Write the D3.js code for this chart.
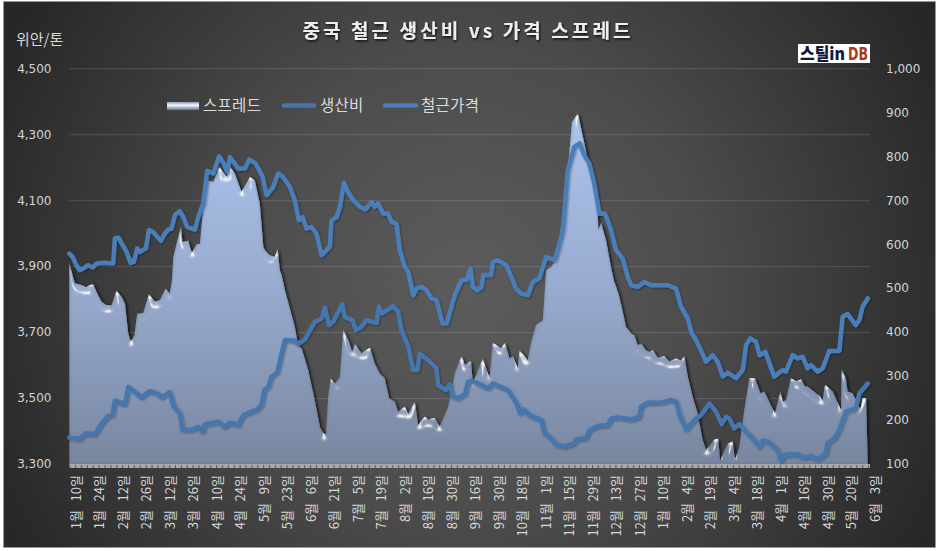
<!DOCTYPE html>
<html><head><meta charset="utf-8">
<script src="https://cdn.jsdelivr.net/npm/d3@7"></script>
<style>html,body{margin:0;padding:0;background:#fff}svg{display:block}text{white-space:pre}</style>
</head><body><svg id="c" width="938" height="551"></svg>
<script>
const title = "중국 철근 생산비 vs 가격 스프레드";
const unitLabel = "위안/톤";
const seriesNames = ["스프레드", "생산비", "철근가격"];
const leftTicks = [3300, 3500, 3700, 3900, 4100, 4300, 4500];
const rightTicks = [100, 200, 300, 400, 500, 600, 700, 800, 900, 1000];
const dateLabels = ["1월   10일","1월   24일","2월   12일","2월   26일","3월   12일","3월   26일","4월   10일","4월   24일","5월   9일","5월   23일","6월   6일","6월   21일","7월   5일","7월   19일","8월   2일","8월   16일","8월   30일","9월   16일","9월   30일","10월   18일","11월   1일","11월   15일","11월   29일","12월   13일","12월   27일","1월   10일","2월   4일","2월   19일","3월   4일","3월   18일","4월   1일","4월   16일","4월   30일","5월   20일","6월   3일"];
const pointsPerLabel = 10;

const priceDay = [0,1.4,3,4.5,6,8,10,11.6,14.5,18.7,19.4,20.9,22.3,24.4,26.1,27.5,28.9,30,32.6,33.9,35.7,37.2,39,40.7,42.1,43.5,45,47,48.5,50.2,53.5,54.9,57,58.7,61.3,63.8,65.8,67.2,68.4,70.5,71.9,74.8,76.6,79.4,82.3,84,86.8,88.9,91,93.9,96,97.7,99.3,101,103.1,105.2,107.4,110.9,111.6,113.8,115.2,116.9,118.7,120.9,123.7,126.1,128.7,130,131.5,133.6,135.7,137.2,139.3,140.7,142.8,144.3,146.4,147.8,149.9,152,154.2,156.3,158.9,160.6,164.1,167,169.1,170.8,171.8,173.6,175.5,176.2,179.6,180.4,182.4,186,188.1,190.2,192.3,195.2,197.3,200.1,203,206.5,207.9,210.1,212.2,215,217.2,219.3,221.4,223.5,225.7,228.1,230.6,232.8,235.6,237.7,239.2,242,244.8,247.7,251.2,254.8,258.3,260.4,263.3,265,266.8,271.1,273.9,276,278.2,280.3,283.8,286.7,288.1,289.9,292.3,293.8,296.3,300.1,303.7,305.1,307.9,310,312.2,314.3,315.7,318.6,320.7,323.5,327.8,329.2,331.3,334.8,336.3,337.7,339.9];
const priceVal = [3938,3928,3903,3888,3893,3903,3896,3908,3910,3908,3984,3987,3969,3943,3910,3913,3954,3943,3954,4009,4004,3991,3977,3999,4011,4014,4055,4067,4049,4019,4011,4049,4090,4189,4181,4233,4211,4186,4231,4211,4196,4196,4223,4211,4171,4115,4140,4181,4171,4140,4100,4039,4049,4014,4019,3999,3933,3959,4039,4049,4080,4153,4125,4100,4080,4072,4095,4080,4090,4060,4060,4034,4029,3948,3898,3883,3812,3832,3837,3827,3802,3797,3726,3726,3812,3858,3858,3893,3837,3827,3837,3873,3873,3913,3918,3903,3868,3832,3817,3812,3852,3863,3928,3918,3949,4009,4191,4262,4272,4236,4211,4150,4059,4059,4009,3948,3923,3868,3842,3837,3852,3842,3842,3842,3832,3777,3741,3696,3676,3610,3630,3610,3565,3577,3560,3585,3661,3681,3671,3630,3640,3565,3585,3580,3630,3620,3625,3590,3600,3580,3590,3643,3643,3746,3755,3721,3736,3777,3802];

const costDay = [0,4.5,7.1,10.9,13.8,16.6,18.4,19.4,23.7,25.1,27.2,30.8,34.3,37.9,39.3,42.8,44.5,47.1,48.1,52,54.9,56.7,57.7,63.4,66.2,68.4,71.9,74,77.6,79.7,81.8,83,84.7,86.1,88.5,90.4,91.8,96,97.4,100.3,104.5,107.4,108.8,110.6,112.3,116.2,117.3,120.6,122,124.4,126.5,130.8,131.8,133.2,137.9,140,141.4,144.3,146.4,148.2,149.2,153.5,156.3,157,160.3,162,163,165.5,168.4,169.8,171,174.8,178.2,180.4,186.7,190.4,191.9,193,196,200.9,202.3,205.1,207.4,210.8,215,215.9,220,221.4,225,229.2,230.7,233.5,239.2,242.7,243.4,246.2,251.9,256.2,258.3,259.8,262.6,266.1,268.9,272.5,275.3,277.7,279.6,281,283.1,285.2,287.4,290.2,293.8,295.2,297.3,301.6,303,304.4,309.4,312.9,315.7,318.6,322.1,322.8,325.7,327.8,330.6,334.9,336.3,339.9];
const costVal = [3380,3376,3393,3390,3423,3446,3448,3492,3481,3534,3522,3502,3521,3512,3502,3517,3474,3454,3405,3403,3413,3398,3420,3428,3413,3425,3418,3448,3459,3464,3479,3524,3534,3565,3577,3635,3676,3674,3664,3678,3731,3741,3774,3721,3731,3784,3746,3736,3706,3716,3736,3728,3777,3757,3779,3762,3706,3656,3585,3585,3635,3610,3590,3539,3524,3542,3506,3499,3512,3549,3552,3542,3529,3544,3524,3484,3454,3466,3448,3433,3393,3378,3358,3353,3363,3375,3378,3403,3415,3418,3438,3441,3435,3443,3474,3486,3486,3494,3489,3448,3405,3433,3448,3484,3459,3421,3443,3438,3408,3421,3403,3383,3353,3371,3368,3342,3310,3327,3330,3320,3324,3314,3332,3363,3378,3403,3459,3469,3514,3544];

const spreadDay = [0,1,2.4,5.2,7.1,8.8,10.2,12.3,13.8,15.9,18,20.1,22.3,23.7,25.1,26.2,27.7,28.9,31.5,33.9,36.5,38.6,41,42.8,43.7,44.3,45.7,47.5,48.2,50.6,52.2,54.2,55.6,57,59.1,61.3,63.8,67,68.4,70.5,73.3,76.9,79,81.1,82.6,83.3,85.4,87.5,88.7,89.6,90.4,91.8,93.9,96,97.4,98.9,101.7,104.5,106.7,108.1,109.2,110.2,111.3,113.1,115.2,116.6,119.1,120.4,121.6,124.4,128,130,132.2,134.3,136.2,138.6,140,142.8,144.3,147.1,148.5,151.4,152.8,154.5,155.6,157.7,161.3,164.1,167,168.4,170.5,171,171.8,176,178.9,180.3,183.8,185.5,187.4,188.8,190.9,191.6,195.2,196.6,198.7,201.6,203,205.1,207.9,210.1,212.2,214,216.5,218.2,219.6,221.4,224.3,225,225.2,226.4,228.5,230.6,231.8,233.8,235,237,239.2,240.6,242,243.4,245.5,247,248.4,250.5,253.3,255.5,258.3,260.4,261.8,263.3,265.4,267.5,269.6,271.1,274.6,276.3,277,278.9,280.6,282.4,283.4,285.2,287.1,289.5,291.9,294.2,295.9,300.4,302.7,303.7,305.1,307.2,309.4,311.5,313.2,314.3,319.3,320.7,321.7,325,328.5,328.8,330.6,331.3,333.5,335.6,336.7,337.7,339.2,339.9];
const spreadVal = [556,537,511,507,502,507,508,484,469,461,461,494,480,465,397,378,393,442,444,486,469,473,499,488,518,571,602,639,605,608,580,600,601,685,745,742,776,753,776,761,719,753,745,692,594,586,575,571,590,541,530,495,454,412,370,363,314,245,185,170,166,253,295,283,298,406,378,355,373,352,365,329,306,295,249,242,219,230,214,242,189,208,200,204,204,185,230,306,346,325,333,333,283,340,295,376,363,376,340,345,317,359,336,376,416,427,541,548,571,677,768,878,897,855,821,776,715,670,632,648,609,548,518,488,461,412,397,393,370,374,359,355,359,342,345,333,340,335,345,299,253,215,155,132,156,158,105,132,147,151,109,139,215,295,295,261,265,215,265,242,245,295,288,293,276,276,255,245,280,265,223,315,295,265,261,238,223,250,250,100];

const svg = d3.select("#c");
const defs = svg.append("defs");
const FONT = "'Noto Sans CJK KR','Noto Sans',sans-serif";
const NUM = "'DejaVu Sans',sans-serif";

const bg = defs.append("radialGradient").attr("id","bg").attr("gradientUnits","userSpaceOnUse")
  .attr("cx",469).attr("cy",285).attr("r",520);
bg.append("stop").attr("offset",0).attr("stop-color","#5c5c5c");
bg.append("stop").attr("offset",0.45).attr("stop-color","#4c4c4c");
bg.append("stop").attr("offset",1).attr("stop-color","#272727");

const ag = defs.append("linearGradient").attr("id","ag").attr("gradientUnits","userSpaceOnUse")
  .attr("x1",0).attr("x2",0).attr("y1",113).attr("y2",464);
ag.append("stop").attr("offset",0).attr("stop-color","#adc4ec");
ag.append("stop").attr("offset",0.5).attr("stop-color","#98abcf");
ag.append("stop").attr("offset",1).attr("stop-color","#78869f");

const bevel = defs.append("filter").attr("id","bevel").attr("filterUnits","userSpaceOnUse")
  .attr("x",40).attr("y",80).attr("width",860).attr("height",400);
bevel.append("feGaussianBlur").attr("in","SourceAlpha").attr("stdDeviation",3.2).attr("result","b");
const spec = bevel.append("feSpecularLighting").attr("in","b").attr("surfaceScale",4)
  .attr("specularConstant",0.9).attr("specularExponent",70).attr("lighting-color","#ffffff").attr("result","s");
spec.append("feDistantLight").attr("azimuth",270).attr("elevation",38);
bevel.append("feOffset").attr("in","s").attr("dx",0).attr("dy",3).attr("result","s2");
bevel.append("feComposite").attr("in","s2").attr("in2","SourceAlpha").attr("operator","in").attr("result","sc");
bevel.append("feGaussianBlur").attr("in","SourceAlpha").attr("stdDeviation",1.6).attr("result","ie");
bevel.append("feComposite").attr("in","SourceAlpha").attr("in2","ie").attr("operator","out").attr("result","edge");
bevel.append("feFlood").attr("flood-color","#5c6a82").attr("flood-opacity",0.7);
bevel.append("feComposite").attr("in2","edge").attr("operator","in").attr("result","edgeC");
bevel.append("feOffset").attr("in","SourceAlpha").attr("dx",2).attr("dy",1).attr("result","o");
bevel.append("feGaussianBlur").attr("in","o").attr("stdDeviation",1.5).attr("result","ob");
bevel.append("feFlood").attr("flood-color","#000").attr("flood-opacity",0.7);
bevel.append("feComposite").attr("in2","ob").attr("operator","in").attr("result","sh");
const mg = bevel.append("feMerge");
mg.append("feMergeNode").attr("in","sh");
mg.append("feMergeNode").attr("in","SourceGraphic");
mg.append("feMergeNode").attr("in","edgeC");
mg.append("feMergeNode").attr("in","sc");

const ls = defs.append("filter").attr("id","ls").attr("x","-5%").attr("y","-5%").attr("width","110%").attr("height","110%");
ls.append("feDropShadow").attr("dx",1).attr("dy",1).attr("stdDeviation",1).attr("flood-color","#000").attr("flood-opacity",0.35);
const ts = defs.append("filter").attr("id","ts").attr("x","-5%").attr("y","-20%").attr("width","110%").attr("height","140%");
ts.append("feDropShadow").attr("dx",1).attr("dy",1.5).attr("stdDeviation",0.8).attr("flood-color","#000").attr("flood-opacity",0.8);

const sw = defs.append("linearGradient").attr("id","sw").attr("x1",0).attr("x2",0).attr("y1",0).attr("y2",1);
sw.append("stop").attr("offset",0).attr("stop-color","#8d9ab0");
sw.append("stop").attr("offset",0.4).attr("stop-color","#f4f8ff");
sw.append("stop").attr("offset",1).attr("stop-color","#65738c");

svg.append("rect").attr("x",3.5).attr("y",1.5).attr("width",932).attr("height",546).attr("fill","url(#bg)").attr("stroke","#9a9a9a").attr("stroke-width",0.6);

const plot = {l:69.3, r:870, t:68.3, b:464};
const x = d3.scaleLinear().domain([0,340]).range([plot.l,868]);
const yL = d3.scaleLinear().domain([3300,4500]).range([plot.b,plot.t]);
const yR = d3.scaleLinear().domain([100,1000]).range([plot.b,plot.t]);

const gridG = svg.append("g").call(d3.axisLeft(yL).tickValues(leftTicks).tickSize(-(plot.r-plot.l)).tickFormat(""))
  .attr("transform",`translate(${plot.l},0)`);
gridG.select(".domain").remove();
gridG.selectAll("line").attr("stroke","#fff").attr("stroke-opacity",0.14);

const spread = d3.zip(spreadDay, spreadVal);
svg.append("path").datum(spread)
  .attr("d", d3.area().x(d=>x(d[0])).y0(yR(100)).y1(d=>yR(d[1])))
  .attr("fill","url(#ag)").attr("filter","url(#bevel)");

const bandTicks = d3.range(0, 341, 2.5);
svg.append("rect").attr("x",plot.l).attr("y",plot.b).attr("width",plot.r-plot.l).attr("height",4).attr("fill","#a8a8a8");
const tickG = svg.append("g").attr("transform",`translate(0,${plot.b})`)
  .call(d3.axisBottom(x).tickValues(bandTicks).tickSize(4).tickFormat(""));
tickG.select(".domain").remove();
tickG.selectAll("line").attr("stroke","#5a5a5a").attr("stroke-width",1).attr("y1",1);

const line = d3.line().x(d=>x(d[0])).y(d=>yL(d[1])).curve(d3.curveLinear);
svg.append("path").datum(d3.zip(costDay,costVal)).attr("d",line).attr("fill","none")
  .attr("stroke","#4476ad").attr("stroke-width",4.5).attr("stroke-linejoin","round").attr("stroke-linecap","round").attr("filter","url(#ls)");
svg.append("path").datum(d3.zip(priceDay,priceVal)).attr("d",line).attr("fill","none")
  .attr("stroke","#4a7eb9").attr("stroke-width",4.5).attr("stroke-linejoin","round").attr("stroke-linecap","round").attr("filter","url(#ls)");

function styleAxis(g){
  g.select(".domain").remove();
  g.selectAll("line").remove();
  g.selectAll("text").attr("font-family",NUM).attr("font-size",12).attr("fill","#d4d4d4");
}
svg.append("g").attr("transform","translate(51.5,0)")
  .call(d3.axisLeft(yL).tickValues(leftTicks).tickSize(0).tickPadding(0).tickFormat(d3.format(",")))
  .call(styleAxis);
svg.append("g").attr("transform","translate(886,0)")
  .call(d3.axisRight(yR).tickValues(rightTicks).tickSize(0).tickPadding(0).tickFormat(d3.format(",")))
  .call(styleAxis);

const labelIdx = dateLabels.map((d,i)=>i*pointsPerLabel);
const xG = svg.append("g").attr("transform",`translate(0,${plot.b})`)
  .call(d3.axisBottom(x).tickValues(labelIdx).tickSize(0).tickFormat((d,i)=>dateLabels[i]));
xG.select(".domain").remove();
xG.selectAll("text").attr("font-family",FONT).attr("font-size",13).attr("fill","#d8d8d8")
  .attr("text-anchor","end").attr("dy",0).attr("y",0)
  .attr("transform","translate(11,11) rotate(-90)");

svg.append("text").attr("x",468).attr("y",38).attr("text-anchor","middle").text(title)
  .attr("font-family",FONT).attr("font-weight",700).attr("font-size",19).attr("letter-spacing",3.1)
  .attr("fill","#eeeeee").attr("filter","url(#ts)");
svg.append("text").attr("x",16).attr("y",45).text(unitLabel).attr("font-family",FONT).attr("font-size",15).attr("fill","#d8d8d8");

const lg = svg.append("g").attr("font-family",FONT).attr("font-size",15.5).attr("fill","#dcdcdc").attr("letter-spacing",0.3);
lg.append("rect").attr("x",167).attr("y",102).attr("width",32).attr("height",8).attr("fill","url(#sw)");
lg.append("text").attr("x",203).attr("y",111).text(seriesNames[0]);
lg.append("line").attr("x1",284).attr("x2",314).attr("y1",105.5).attr("y2",105.5).attr("stroke","#4476ad").attr("stroke-width",4.5).attr("stroke-linecap","round");
lg.append("text").attr("x",320).attr("y",111).text(seriesNames[1]);
lg.append("line").attr("x1",385).attr("x2",416).attr("y1",105.5).attr("y2",105.5).attr("stroke","#4a7eb9").attr("stroke-width",4.5).attr("stroke-linecap","round");
lg.append("text").attr("x",421).attr("y",111).text(seriesNames[2]);

const logo = svg.append("g");
logo.append("rect").attr("x",798).attr("y",44).attr("width",72).attr("height",19).attr("fill","#fff");
logo.append("text").attr("x",800).attr("y",60).attr("font-family",FONT).attr("font-weight",900).attr("font-size",17).attr("fill","#111a3a").attr("textLength",45).attr("lengthAdjust","spacingAndGlyphs").text("스틸in");
logo.append("text").attr("x",848).attr("y",60).attr("font-family",NUM).attr("font-weight",700).attr("font-size",17).attr("fill","#a83a1c").attr("textLength",20).attr("lengthAdjust","spacingAndGlyphs").text("DB");
</script></body></html>
